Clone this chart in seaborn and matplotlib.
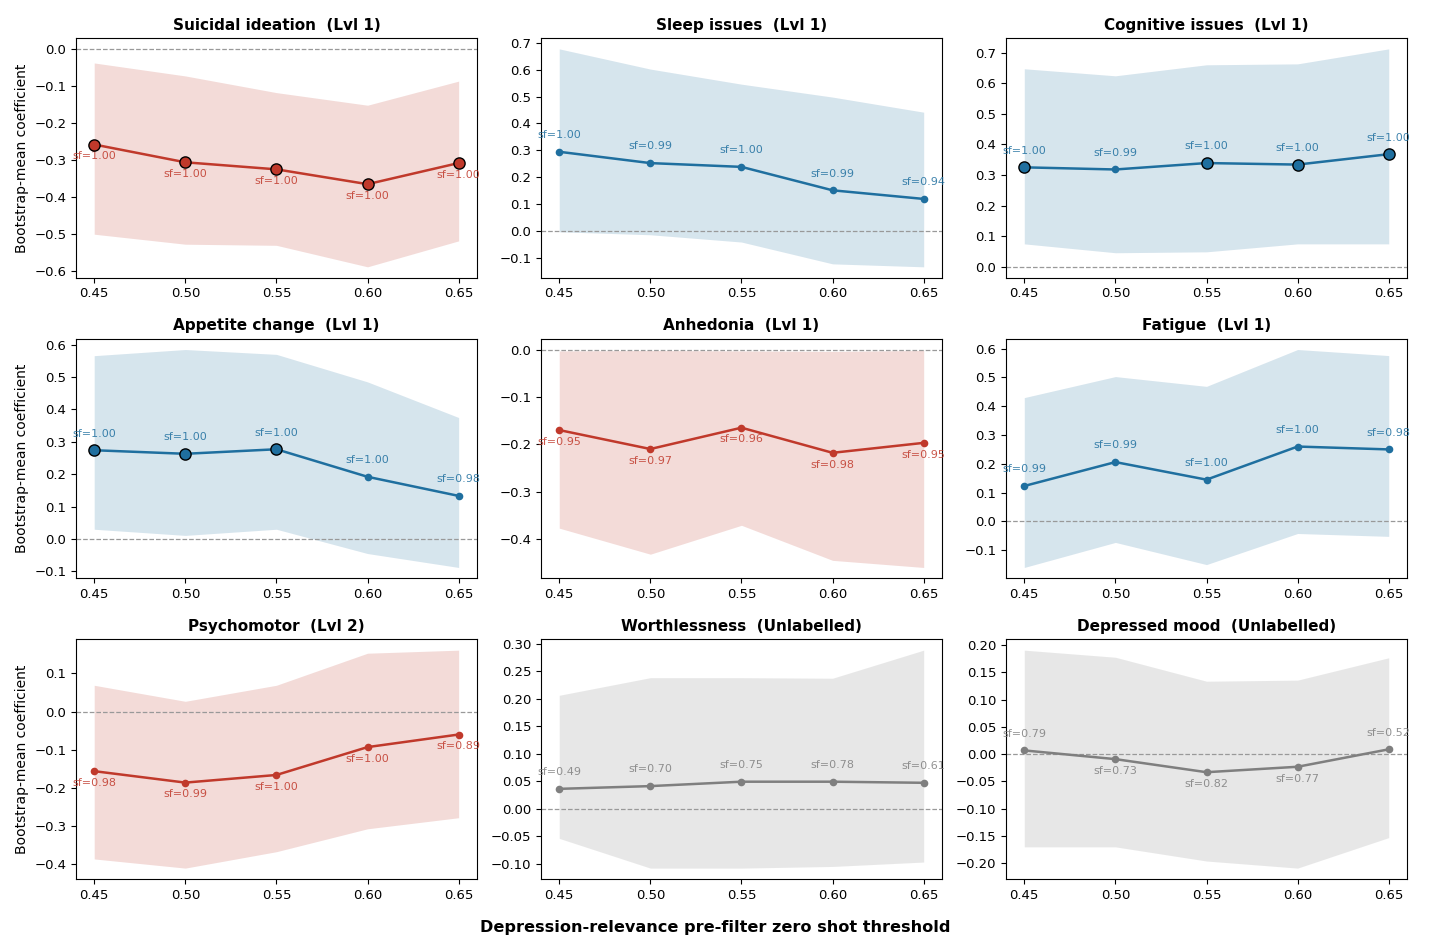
import numpy as np
import matplotlib
matplotlib.use("Agg")
import matplotlib.pyplot as plt
import seaborn as sns

thresholds = [0.45, 0.50, 0.55, 0.60, 0.65]

# Suicidal ideation (Lvl 1)
suicidal_mean = [-0.258, -0.306, -0.325, -0.365, -0.308]
suicidal_lo = [-0.500, -0.527, -0.530, -0.588, -0.518]
suicidal_hi = [-0.038, -0.073, -0.118, -0.152, -0.087]
suicidal_sf = [1.00, 1.00, 1.00, 1.00, 1.00]

# Sleep issues (Lvl 1)
sleep_mean = [0.295, 0.253, 0.239, 0.152, 0.120]
sleep_lo = [-0.002, -0.013, -0.040, -0.121, -0.132]
sleep_hi = [0.677, 0.602, 0.546, 0.498, 0.442]
sleep_sf = [1.00, 0.99, 1.00, 0.99, 0.94]

# Cognitive issues (Lvl 1)
cognitive_mean = [0.325, 0.318, 0.339, 0.334, 0.368]
cognitive_lo = [0.075, 0.046, 0.049, 0.075, 0.075]
cognitive_hi = [0.647, 0.624, 0.660, 0.663, 0.712]
cognitive_sf = [1.00, 0.99, 1.00, 1.00, 1.00]

# Appetite change (Lvl 1)
appetite_mean = [0.274, 0.263, 0.277, 0.192, 0.133]
appetite_lo = [0.030, 0.011, 0.030, -0.045, -0.088]
appetite_hi = [0.566, 0.585, 0.570, 0.485, 0.375]
appetite_sf = [1.00, 1.00, 1.00, 1.00, 0.98]

# Anhedonia (Lvl 1)
anhedonia_mean = [-0.170, -0.210, -0.165, -0.218, -0.197]
anhedonia_lo = [-0.377, -0.432, -0.371, -0.445, -0.460]
anhedonia_hi = [-0.003, -0.002, -0.003, -0.004, -0.002]
anhedonia_sf = [0.95, 0.97, 0.96, 0.98, 0.95]

# Fatigue (Lvl 1)
fatigue_mean = [0.123, 0.206, 0.145, 0.260, 0.250]
fatigue_lo = [-0.160, -0.073, -0.150, -0.042, -0.052]
fatigue_hi = [0.430, 0.503, 0.469, 0.597, 0.576]
fatigue_sf = [0.99, 0.99, 1.00, 1.00, 0.98]

# Psychomotor (Lvl 2)
psychomotor_mean = [-0.156, -0.186, -0.166, -0.093, -0.060]
psychomotor_lo = [-0.386, -0.410, -0.367, -0.307, -0.278]
psychomotor_hi = [0.069, 0.027, 0.069, 0.153, 0.161]
psychomotor_sf = [0.98, 0.99, 1.00, 1.00, 0.89]

# Worthlessness (Unlabelled)
worthless_mean = [0.036, 0.041, 0.049, 0.049, 0.047]
worthless_lo = [-0.054, -0.108, -0.108, -0.105, -0.097]
worthless_hi = [0.206, 0.238, 0.238, 0.237, 0.288]
worthless_sf = [0.49, 0.70, 0.75, 0.78, 0.61]

# Depressed mood (Unlabelled)
mood_mean = [0.007, -0.009, -0.033, -0.023, 0.009]
mood_lo = [-0.170, -0.170, -0.196, -0.209, -0.153]
mood_hi = [0.191, 0.178, 0.134, 0.136, 0.177]
mood_sf = [0.79, 0.73, 0.82, 0.77, 0.52]

panels = [
    ("Suicidal ideation  (Lvl 1)", suicidal_mean, suicidal_lo, suicidal_hi, suicidal_sf, "neg"),
    ("Sleep issues  (Lvl 1)", sleep_mean, sleep_lo, sleep_hi, sleep_sf, "pos"),
    ("Cognitive issues  (Lvl 1)", cognitive_mean, cognitive_lo, cognitive_hi, cognitive_sf, "pos"),
    ("Appetite change  (Lvl 1)", appetite_mean, appetite_lo, appetite_hi, appetite_sf, "pos"),
    ("Anhedonia  (Lvl 1)", anhedonia_mean, anhedonia_lo, anhedonia_hi, anhedonia_sf, "neg"),
    ("Fatigue  (Lvl 1)", fatigue_mean, fatigue_lo, fatigue_hi, fatigue_sf, "pos"),
    ("Psychomotor  (Lvl 2)", psychomotor_mean, psychomotor_lo, psychomotor_hi, psychomotor_sf, "neg"),
    ("Worthlessness  (Unlabelled)", worthless_mean, worthless_lo, worthless_hi, worthless_sf, "none"),
    ("Depressed mood  (Unlabelled)", mood_mean, mood_lo, mood_hi, mood_sf, "none"),
]

colors = {"neg": "#c0392b", "pos": "#1f6f9f", "none": "#7f7f7f"}

# plain matplotlib look, seaborn only for drawing
plt.rcParams["font.family"] = ["DejaVu Sans"]

fig, axes = plt.subplots(3, 3, figsize=(14.31, 9.47), dpi=100)
fig.subplots_adjust(left=0.0531, right=0.9832, top=0.9599, bottom=0.0718,
                    wspace=0.16, hspace=0.254)

for i, (title, mean, lo, hi, sf, kind) in enumerate(panels):
    ax = axes.flat[i]
    c = colors[kind]
    ax.fill_between(thresholds, lo, hi, color=c, alpha=0.18, linewidth=0)
    ax.axhline(0, color="#999999", ls="--", lw=0.9)
    sns.lineplot(x=thresholds, y=mean, color=c, lw=1.8, marker="o",
                 markersize=5.5, markeredgewidth=0, ax=ax)

    # points where the interval excludes zero and sign is stable
    sig = [(l > 0 or h < 0) and s >= 0.995 for l, h, s in zip(lo, hi, sf)]
    sx = [x for x, k in zip(thresholds, sig) if k]
    sy = [m for m, k in zip(mean, sig) if k]
    if sx:
        sns.scatterplot(x=sx, y=sy, color=c, s=65, edgecolor="black",
                        linewidth=1, zorder=5, ax=ax)

    for x, m, s in zip(thresholds, mean, sf):
        dy = 12 if m >= 0 else -8.5
        ax.annotate(f"sf={s:.2f}", (x, m), xytext=(0, dy), textcoords="offset points",
                    ha="center", va="center", fontsize=8, color=c, alpha=0.85)

    ax.set_title(title, fontsize=11, fontweight="bold")
    ax.set_xticks(thresholds)
    ax.set_xticklabels([f"{t:.2f}" for t in thresholds])
    ax.tick_params(labelsize=9.5)
    if i % 3 == 0:
        ax.set_ylabel("Bootstrap-mean coefficient", fontsize=10)

fig.supxlabel("Depression-relevance pre-filter zero shot threshold",
              fontsize=11.6, fontweight="bold", y=0.013)

fig.savefig("out.png", dpi=100)
